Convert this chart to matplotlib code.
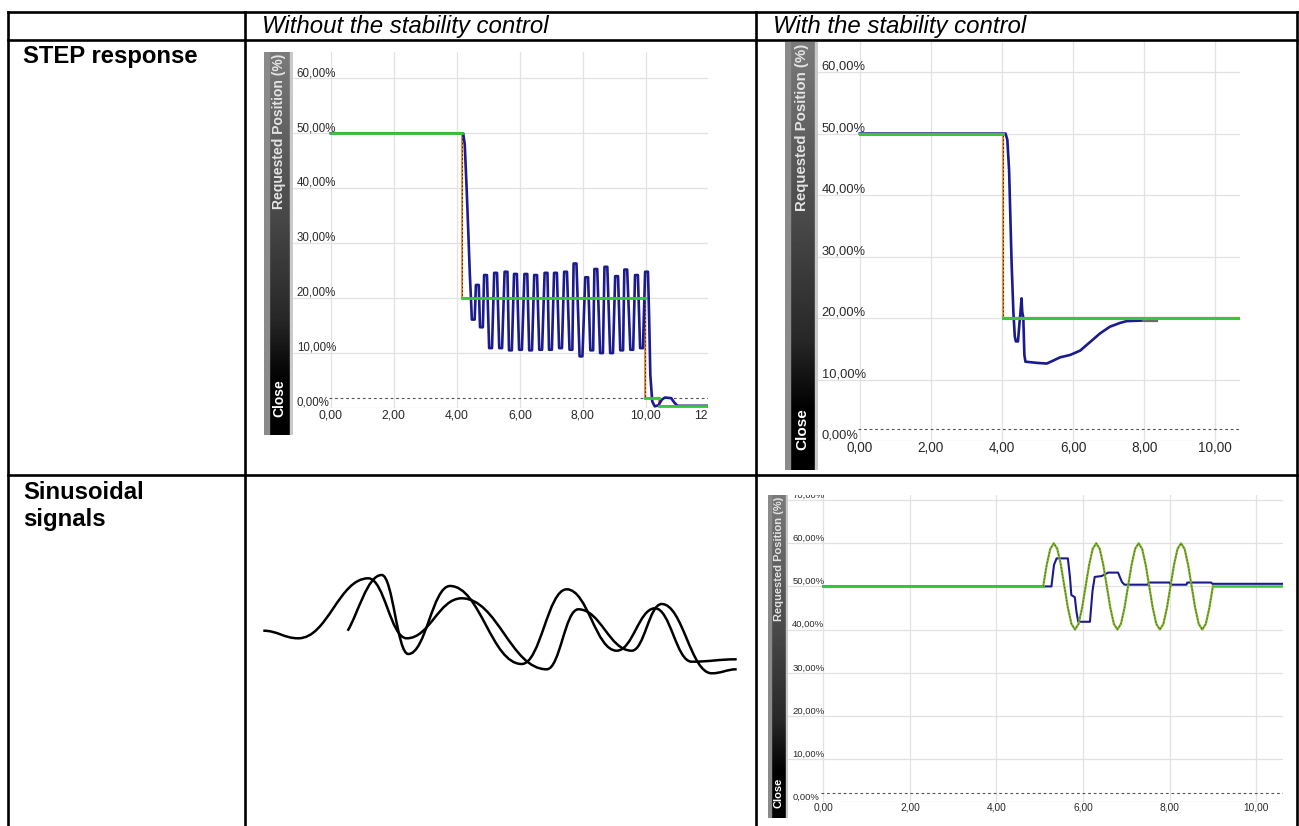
import numpy as np
import matplotlib
matplotlib.use("Agg")
import matplotlib.pyplot as plt
import matplotlib.transforms as mtransforms
from matplotlib.path import Path
from matplotlib.patches import PathPatch, Rectangle

plt.rcParams['font.family'] = ['Liberation Sans', 'DejaVu Sans']

# ---------------- text ----------------
col_headers = ["Without the stability control", "With the stability control"]
row_labels = ["STEP response", "Sinusoidal", "signals"]
y_axis_label = "Requested Position (%)"
bar_bottom_label = "Close"

# ---------------- chart 1 : step, without stability control ----------------
c1_xticks = [0, 2, 4, 6, 8, 10, 12]
c1_yticks = [0, 10, 20, 30, 40, 50, 60]
c1_close_level = 1.8
c1_green_t = [0.0, 4.16, np.nan, 4.16, 9.97, np.nan, 9.97, 10.4, np.nan, 10.4, 11.97]
c1_green_v = [50, 50, np.nan, 20, 20, np.nan, 1.8, 1.8, np.nan, 0.3, 0.3]
c1_req_t = [0.0, 4.16, 4.16, 9.97, 9.97, 10.4, 10.4, 11.97]
c1_req_v = [50, 50, 20, 20, 1.8, 1.8, 0.3, 0.3]
c1_blue_head_t = [0.0, 4.20, 4.25, 4.31, 4.36, 4.41, 4.45]
c1_blue_head_v = [50, 50, 48, 40, 32.5, 24.6, 19.6]
c1_peak_t = [4.65, 4.91, 5.23, 5.56, 5.86, 6.19, 6.50, 6.83, 7.13, 7.45, 7.75, 8.12, 8.41, 8.73, 9.07, 9.36, 9.70, 10.02]
c1_peak_v = [22.4, 24.2, 24.6, 24.8, 24.4, 24.4, 24.2, 24.6, 24.6, 24.8, 26.3, 23.8, 25.3, 25.7, 24.0, 25.2, 24.2, 24.8]
c1_trough_t = [4.52, 4.78, 5.07, 5.39, 5.70, 6.02, 6.34, 6.66, 6.97, 7.29, 7.62, 7.94, 8.28, 8.59, 8.91, 9.23, 9.55, 9.86]
c1_trough_v = [16.1, 14.7, 10.9, 10.9, 10.5, 10.6, 10.5, 10.6, 10.6, 10.9, 10.6, 9.4, 10.5, 10.0, 10.0, 10.5, 10.6, 10.9]
c1_blue_tail_t = [10.10, 10.14, 10.20, 10.28, 10.40, 10.50, 10.60, 10.80, 10.90, 11.00, 11.97]
c1_blue_tail_v = [17.0, 6.0, 1.2, 0.3, 0.5, 1.5, 1.9, 1.8, 1.0, 0.4, 0.4]

# ---------------- chart 2 : step, with stability control ----------------
c2_xticks = [0, 2, 4, 6, 8, 10]
c2_yticks = [0, 10, 20, 30, 40, 50, 60]
c2_close_level = 1.9
c2_green_t = [0.0, 4.04, np.nan, 4.04, 10.7]
c2_green_v = [50, 50, np.nan, 20, 20]
c2_req_t = [0.0, 4.04, 4.04, 10.7]
c2_req_v = [50, 50, 20, 20]
c2_blue_t = [0.0, 4.10, 4.15, 4.20, 4.27, 4.32, 4.36, 4.39, 4.45, 4.49, 4.52, 4.55, 4.57, 4.60, 4.63, 4.66,
             5.00, 5.26, 5.45, 5.63, 5.92, 6.20, 6.48, 6.76, 7.04, 7.32, 7.51, 7.98]
c2_blue_v = [50, 50, 49, 44, 29, 21, 17, 16.2, 16.2, 19, 21, 23.2, 21, 20, 14, 12.9,
             12.7, 12.6, 13.1, 13.6, 14.0, 14.7, 16.1, 17.5, 18.6, 19.2, 19.5, 19.6]
c2_gray_t = [7.98, 8.35]
c2_gray_v = [19.6, 19.6]

# ---------------- chart 3 : sinusoidal, with stability control ----------------
c3_xticks = [0, 2, 4, 6, 8, 10]
c3_yticks = [0, 10, 20, 30, 40, 50, 60, 70]
c3_close_level = 2.0
c3_flat_t = [0.0, 5.08, np.nan, 9.0, 10.62]
c3_flat_v = [50, 50, np.nan, 50, 50]
c3_sine_t0, c3_sine_t1 = 5.08, 9.0
c3_sine_v = [50, 55, 58.7, 60, 58.7, 55, 50, 45, 41.3, 40, 41.3, 45,
             50, 55, 58.7, 60, 58.7, 55, 50, 45, 41.3, 40, 41.3, 45,
             50, 55, 58.7, 60, 58.7, 55, 50, 45, 41.3, 40, 41.3, 45,
             50, 55, 58.7, 60, 58.7, 55, 50, 45, 41.3, 40, 41.3, 45, 50]
c3_blue_t = [0.0, 5.27, 5.33, 5.39, 5.65, 5.70, 5.73, 5.81, 5.85, 5.89, 6.16, 6.22, 6.27, 6.43, 6.58,
             6.81, 6.90, 6.96, 7.50, 7.52, 8.00, 8.02, 8.39, 8.41, 8.96, 8.99, 10.62]
c3_blue_v = [50.0, 50.0, 55, 56.5, 56.5, 52, 48, 47.5, 44, 41.8, 41.8, 49, 52.2, 52.4, 53.2,
             53.2, 51, 50.4, 50.4, 50.9, 50.9, 50.4, 50.4, 50.9, 50.9, 50.6, 50.6]

# ---------------- hand-drawn sketch (cell pixel coordinates) ----------------
sketch_a_x = [263.3, 298.3, 368.3, 406.7, 461.7, 546.7, 578.3, 631.7, 661.7, 711.7, 736.7]
sketch_a_y = [630.7, 638.3, 578.3, 638.3, 598.3, 669.3, 609.3, 650.7, 604.0, 673.3, 669.3]
sketch_b_x = [347.7, 381.7, 408.3, 450.0, 521.7, 566.7, 616.7, 655.0, 691.7, 736.7]
sketch_b_y = [630.7, 575.0, 654.0, 586.0, 664.0, 589.3, 650.7, 608.3, 661.7, 659.3]

# ---------------- figure ----------------
W, H = 1299, 826
fig = plt.figure(figsize=(W / 100, H / 100), dpi=100)
fig.patch.set_facecolor('white')

GREEN = '#35c935'
BLUE = '#1b1b8e'
ORANGE = '#dc9448'
BROWN = '#5a2d0c'
GRID = '#e2e2e2'
LABEL = '#2a2a2a'


def px_axes(x0, y0, x1, y1, **kw):
    return fig.add_axes([x0 / W, 1 - y1 / H, (x1 - x0) / W, (y1 - y0) / H], **kw)


def fmt(v):
    return f"{v:.2f}".replace('.', ',')


def draw_bar(box, fs, close_fs, close_off):
    x0, y0, x1, y1 = box
    bax = px_axes(x0, y0, x1, y1)
    bax.set_axis_off()
    grad = np.concatenate([np.linspace(0.48, 0.16, 200), np.linspace(0.16, 0.0, 50), np.zeros(40)])
    bax.imshow(grad[:, None], aspect='auto', cmap='gray', vmin=0, vmax=1,
               extent=(0.16, 0.9, 0, 1), interpolation='bilinear')
    bax.add_patch(Rectangle((0, 0), 0.16, 1, color='#8a8a8a'))
    bax.add_patch(Rectangle((0.9, 0), 0.1, 1, color='#c9c9c9'))
    bax.set_xlim(0, 1)
    bax.set_ylim(0, 1)
    h = y1 - y0
    bax.text(0.53, 1 - 2 / h, y_axis_label, rotation=90, ha='center', va='top',
             color='#e4e4e4', fontweight='bold', fontsize=fs)
    bax.text(0.53, close_off / h, bar_bottom_label, rotation=90, ha='center', va='bottom',
             color='white', fontweight='bold', fontsize=close_fs)


def draw_plot(box, xlim, ylim, xticks, yticks, close_level, fs, ylab_dx, xlab_off, clip_bottom):
    x0, y0, x1, y1 = box
    ax = px_axes(x0, y0, x1, y1)
    ax.set_xlim(*xlim)
    ax.set_ylim(*ylim)
    for s in ax.spines.values():
        s.set_visible(False)
    ax.set_xticks([])
    ax.set_yticks([])
    for xv in xticks:
        ax.axvline(xv, color=GRID, lw=0.9, zorder=0)
    for yv in yticks:
        ax.axhline(yv, color=GRID, lw=0.9, zorder=0)
    ax.plot([-0.05, xlim[1]], [close_level, close_level], color='#555555', lw=0.8,
            dashes=(2.5, 2.5), zorder=1)
    ytrans = mtransforms.offset_copy(
        mtransforms.blended_transform_factory(ax.transAxes, ax.transData),
        fig=fig, x=ylab_dx, y=2.3, units='dots')
    for yv in yticks:
        ax.text(0, yv, fmt(yv) + '%', transform=ytrans, ha='left', va='baseline',
                fontsize=fs, color=LABEL, clip_on=True, zorder=5)
    xtrans = mtransforms.offset_copy(ax.transData, fig=fig, x=0, y=-xlab_off, units='dots')
    clipbox = mtransforms.TransformedBbox(
        mtransforms.Bbox.from_extents(x0 / W, 1 - clip_bottom / H, x1 / W, 1 - y0 / H),
        fig.transFigure)
    for xv in xticks:
        t = ax.text(xv, 0, fmt(xv), transform=xtrans, ha='center', va='center',
                    fontsize=fs + 0.5, color=LABEL, clip_on=True)
        t.set_clip_box(clipbox)
    return ax


# ---- chart 1 ----
draw_bar((264, 52, 293, 435), 10, 10, 18)
ax1 = draw_plot((293, 52, 708, 408), (-1.2, 11.97), (0, 64.8), c1_xticks, c1_yticks,
                c1_close_level, 8.3, 3.7, 7, 435)
ext = sorted([(t, v) for t, v in zip(c1_peak_t, c1_peak_v)] + [(t, v) for t, v in zip(c1_trough_t, c1_trough_v)])
osc_t, osc_v = [], []
for t, v in ext:
    osc_t += [t - 0.045, t + 0.045]
    osc_v += [v, v]
c1_blue_t = c1_blue_head_t + osc_t + c1_blue_tail_t
c1_blue_v = c1_blue_head_v + osc_v + c1_blue_tail_v
ax1.plot(c1_req_t, c1_req_v, color=ORANGE, lw=1.5, zorder=2)
ax1.plot(c1_req_t, c1_req_v, color=BROWN, lw=0.7, dashes=(2, 2), zorder=2.5)
ax1.plot(c1_blue_t, c1_blue_v, color=BLUE, lw=1.9, zorder=3)
ax1.plot(c1_green_t, c1_green_v, color=GREEN, lw=2.0, zorder=4)

# ---- chart 2 ----
draw_bar((785, 42, 818, 470), 10.8, 11, 20)
ax2 = draw_plot((818, 42, 1240, 441), (-1.18, 10.7), (0, 64.9), c2_xticks, c2_yticks,
                c2_close_level, 9.3, 3.7, 7, 470)
ax2.plot(c2_req_t, c2_req_v, color=ORANGE, lw=1.6, zorder=2)
ax2.plot(c2_req_t, c2_req_v, color=BROWN, lw=0.7, dashes=(2, 2), zorder=2.5)
ax2.plot(c2_blue_t, c2_blue_v, color=BLUE, lw=1.9, zorder=3)
ax2.plot(c2_gray_t, c2_gray_v, color='#6a6a6a', lw=1.6, zorder=3.5)
ax2.plot(c2_green_t, c2_green_v, color=GREEN, lw=2.2, zorder=4)

# ---- chart 3 ----
draw_bar((768, 495, 788, 818), 8, 8, 10)
ax3 = draw_plot((788, 495, 1283, 802), (-0.815, 10.62), (0, 71.2), c3_xticks, c3_yticks,
                c3_close_level, 6.8, 4.3, 5.5, 818)
c3_sine_t = np.linspace(c3_sine_t0, c3_sine_t1, len(c3_sine_v))
ax3.plot(c3_blue_t, c3_blue_v, color=BLUE, lw=1.5, zorder=3)
ax3.plot(c3_flat_t, c3_flat_v, color=GREEN, lw=1.8, zorder=3.5)
ax3.plot(c3_sine_t, c3_sine_v, color='#6fbf30', lw=1.6, zorder=4)
ax3.plot(c3_sine_t, c3_sine_v, color='#8a5a1a', lw=0.8, dashes=(1.5, 1.5), zorder=4.5)

# ---------------- overlay: table, texts, sketch ----------------
ov = fig.add_axes([0, 0, 1, 1], zorder=10)
ov.set_xlim(0, W)
ov.set_ylim(H, 0)
ov.set_axis_off()
ov.patch.set_visible(False)

tab_x = [8, 245, 756, 1297.5]
tab_y = [12, 40, 475]
for yy in tab_y:
    ov.plot([tab_x[0], tab_x[-1]], [yy, yy], color='black', lw=1.9, solid_capstyle='projecting')
for xx in tab_x:
    ov.plot([xx, xx], [tab_y[0], H + 2], color='black', lw=1.9, solid_capstyle='projecting')

ov.text(262, 33.3, col_headers[0], fontsize=17.3, style='italic', ha='left', va='baseline')
ov.text(772.7, 33.3, col_headers[1], fontsize=17.3, style='italic', ha='left', va='baseline')
ov.text(23, 63.3, row_labels[0], fontsize=17.2, fontweight='bold', ha='left', va='baseline')
ov.text(23, 499, row_labels[1], fontsize=17.2, fontweight='bold', ha='left', va='baseline')
ov.text(23, 526, row_labels[2], fontsize=17.2, fontweight='bold', ha='left', va='baseline')


def sketch_path(xs, ys, k=0.42, start_slope=False):
    verts = [(xs[0], ys[0])]
    codes = [Path.MOVETO]
    for i in range(len(xs) - 1):
        xa, ya, xb, yb = xs[i], ys[i], xs[i + 1], ys[i + 1]
        dx = xb - xa
        if i == 0 and start_slope:
            c1 = (xa + 0.3 * dx, ya + 0.3 * (yb - ya))
        else:
            c1 = (xa + k * dx, ya)
        c2 = (xb - k * dx, yb)
        verts += [c1, c2, (xb, yb)]
        codes += [Path.CURVE4] * 3
    return Path(verts, codes)


ov.add_patch(PathPatch(sketch_path(sketch_a_x, sketch_a_y), fill=False, lw=1.8, color='black'))
ov.add_patch(PathPatch(sketch_path(sketch_b_x, sketch_b_y, start_slope=True), fill=False, lw=1.8, color='black'))

fig.savefig('out.png', dpi=100, facecolor='white')
